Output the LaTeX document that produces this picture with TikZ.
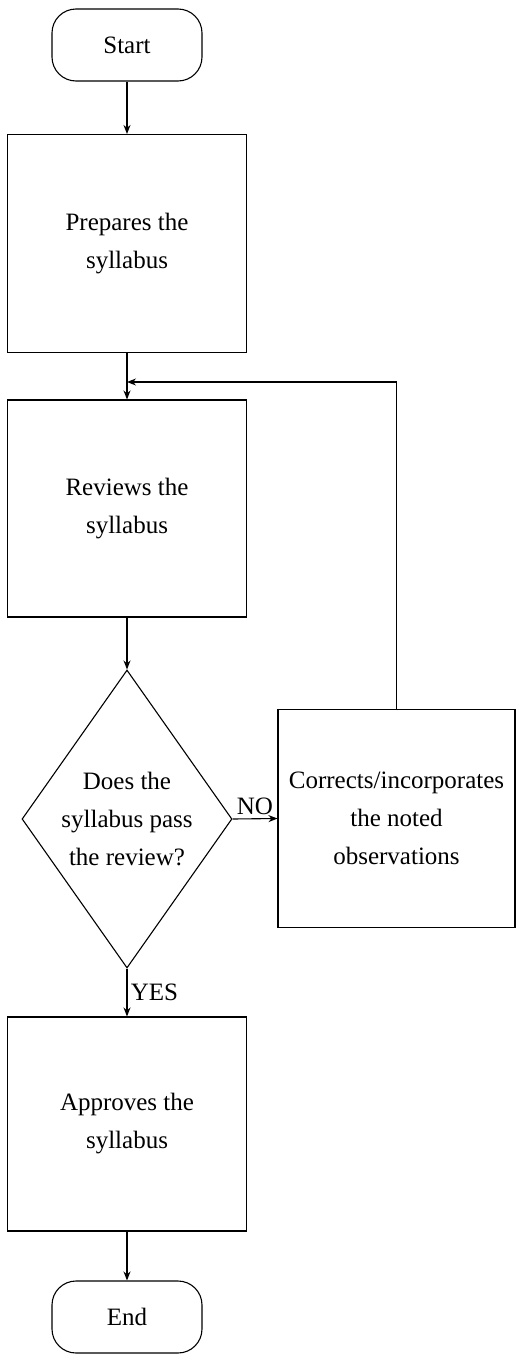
\documentclass[tikz,border=0pt]{standalone}
\usepackage{fontspec}
\setmainfont{Liberation Serif}
\usetikzlibrary{shapes.geometric,arrows.meta}

\begin{document}
\begin{tikzpicture}[x=1pt,y=-1pt,line width=1.1pt,
        every node/.style={font=\fontsize{25}{38}\selectfont},
        term/.style={draw,rounded corners=24pt,minimum width=150pt,minimum height=72pt,align=center},
        proc/.style={draw,minimum width=239pt,minimum height=218pt,align=center},
        dec/.style={draw,diamond,shape aspect=0.7,inner sep=0pt,minimum width=210pt,minimum height=298pt,align=center},
        arr/.style={-{Stealth[length=9pt,width=7pt]}}]
    \useasboundingbox (0,0) rectangle (517,1355);
        \node[term](start) at (127,45){Start};
        \node[proc](prep) at (127,243.5){Prepares the\\syllabus};
        \node[proc,minimum height=217pt](rev) at (127,508.5){Reviews the\\syllabus};
        \node[dec](check) at (127,819){Does the\\syllabus pass\\the review?};
        \node[proc,minimum width=237pt](corr) at (396.5,818.5){Corrects/incorporates\\the noted\\observations};
        \node[proc,minimum height=214pt](appr) at (127,1124){Approves the\\syllabus};
        \node[term](end) at (127,1317){End};
        \coordinate(join) at (127,382);
        \draw[arr](start)--(prep);
        \draw[arr](prep)--(rev);
        \draw[arr](corr.north)|-(join);
        \draw[arr](rev)--(check);
        \draw[arr](check.east)--node[above]{NO}(corr.west);
        \draw[arr](check.south)--node[right]{YES}(appr.north);
        \draw[arr](appr)--(end);
    \end{tikzpicture}
\end{document}
